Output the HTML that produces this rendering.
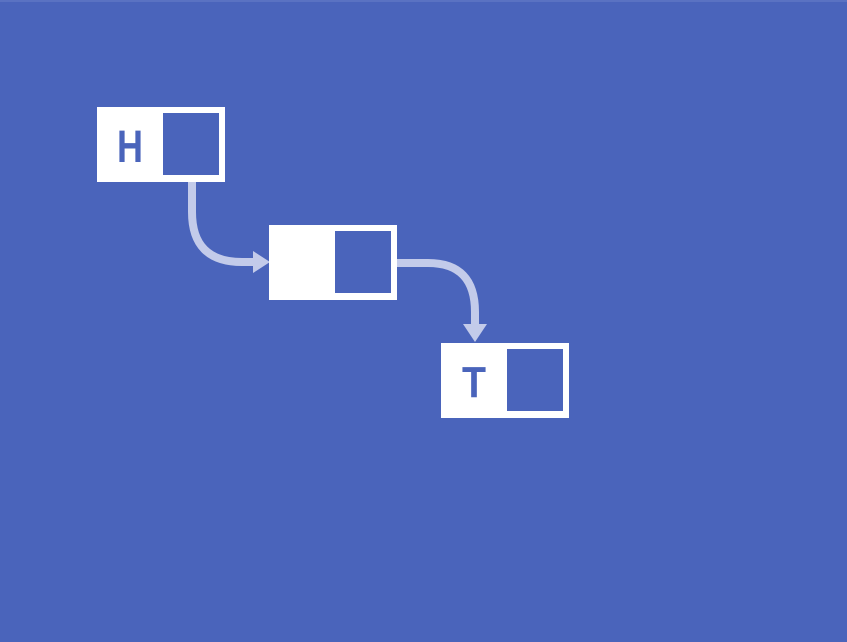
<!DOCTYPE html>
<html><head><meta charset="utf-8"><style>
html,body{margin:0;padding:0;background:#4a64bb;}
svg{display:block}
</style></head><body>
<svg width="847" height="642" viewBox="0 0 847 642" xmlns="http://www.w3.org/2000/svg">
<rect width="847" height="642" fill="#4a64bb"/>
<rect x="0" y="0" width="847" height="2" fill="#5a72c2"/>
<g fill="none" stroke="#c3cbea" stroke-width="8">
<path d="M192 182 L192 212 Q192 262 242 262 L256 262"/>
<path d="M397 263 L428 263 Q475 263 475 312 L475 326"/>
</g>
<polygon points="253,251 270,262 253,273" fill="#c3cbea"/>
<polygon points="463,324 487,324 475,342" fill="#c3cbea"/>
<rect x="97" y="107" width="128" height="75" fill="#fff"/>
<rect x="163" y="113" width="56" height="62" fill="#4a64bb"/>
<rect x="269" y="225" width="128" height="75" fill="#fff"/>
<rect x="335" y="231" width="56" height="62" fill="#4a64bb"/>
<rect x="441" y="343" width="128" height="75" fill="#fff"/>
<rect x="507" y="349" width="56" height="62" fill="#4a64bb"/>
<text x="117" y="162" font-family="Liberation Sans, sans-serif" font-weight="bold" font-size="45" textLength="26" lengthAdjust="spacingAndGlyphs" fill="#4a64bb">H</text>
<text x="462" y="397" font-family="Liberation Sans, sans-serif" font-weight="bold" font-size="44" textLength="24" lengthAdjust="spacingAndGlyphs" fill="#4a64bb">T</text>
</svg>
</body></html>
